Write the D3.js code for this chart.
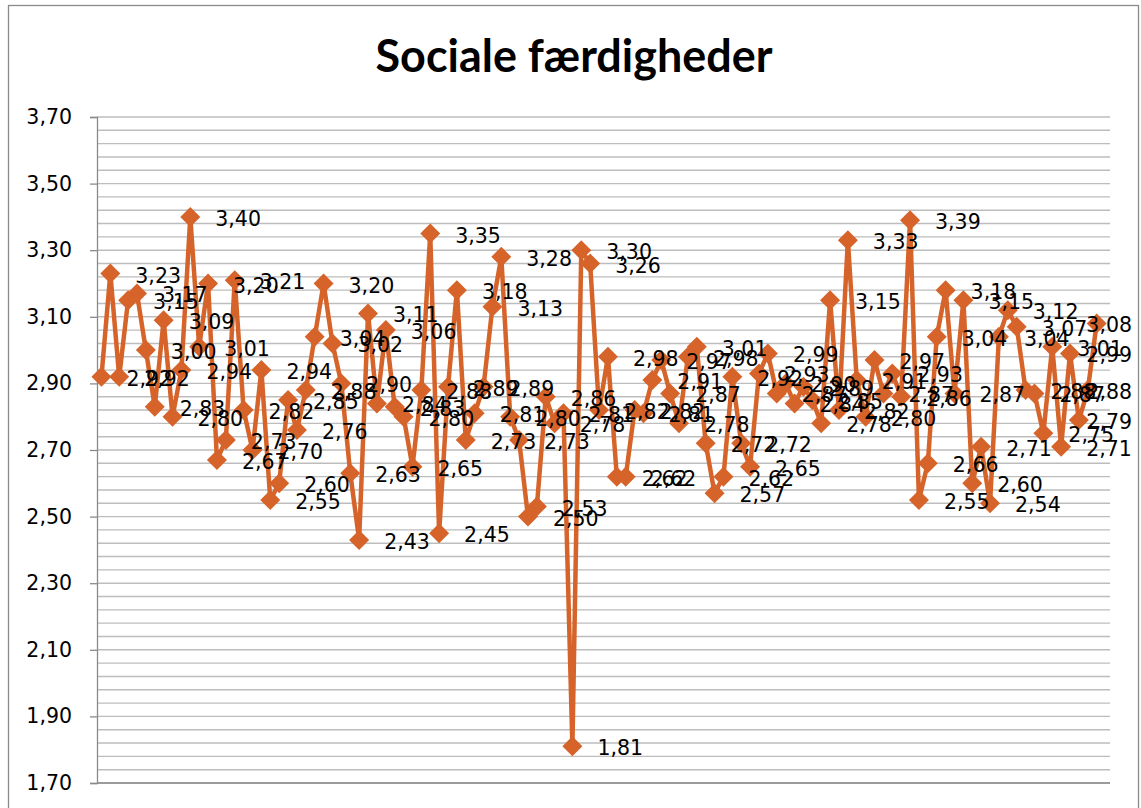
<!DOCTYPE html>
<html>
<head>
<meta charset="utf-8">
<script src="https://cdn.jsdelivr.net/npm/d3@7"></script>
<style>
  body { margin: 0; background: #fff; }
  text { font-family: "DejaVu Sans", Lato, sans-serif; fill: #000; }
  .title { font-family: Lato, "Open Sans", sans-serif; }
</style>
</head>
<body>
<script>
// Chart title
var title = "Sociale færdigheder";

// Values, one per category (the last category is empty)
var values = [
  2.92, 3.23, 2.92, 3.15, 3.17, 3.00, 2.83, 3.09, 2.80, 2.94,
  3.40, 3.01, 3.20, 2.67, 2.73, 3.21, 2.82, 2.70, 2.94, 2.55,
  2.60, 2.85, 2.76, 2.88, 3.04, 3.20, 3.02, 2.90, 2.63, 2.43,
  3.11, 2.84, 3.06, 2.83, 2.80, 2.65, 2.88, 3.35, 2.45, 2.89,
  3.18, 2.73, 2.81, 2.89, 3.13, 3.28, 2.80, 2.73, 2.50, 2.53,
  2.86, 2.78, 2.81, 1.81, 3.30, 3.26, 2.82, 2.98, 2.62, 2.62,
  2.82, 2.81, 2.91, 2.97, 2.87, 2.78, 2.98, 3.01, 2.72, 2.57,
  2.62, 2.92, 2.72, 2.65, 2.93, 2.99, 2.87, 2.90, 2.84, 2.89,
  2.85, 2.78, 3.15, 2.82, 3.33, 2.91, 2.80, 2.97, 2.87, 2.93,
  2.86, 3.39, 2.55, 2.66, 3.04, 3.18, 2.87, 3.15, 2.60, 2.71,
  2.54, 3.04, 3.12, 3.07, 2.88, 2.87, 2.75, 3.01, 2.71, 2.99,
  2.79, 2.88, 3.08, null
];

// Category numbers along the x axis
var categories = d3.range(1, values.length + 1);

// Labelled ticks of the value axis and the fine grid lines
var yTicks = [1.70, 1.90, 2.10, 2.30, 2.50, 2.70, 2.90, 3.10, 3.30, 3.50, 3.70];
var gridValues = [];
for (var k = 0; k <= 50; k++) { gridValues.push(+(1.70 + k * 0.04).toFixed(2)); }

var width = 1141, height = 808;
var plot = {left: 97, right: 1110, top: 117, bottom: 783};
var orange = "#d6642a";

var comma = function(v) { return d3.format(".2f")(v).replace(".", ","); };

var svg = d3.select("body").append("svg")
    .attr("width", width)
    .attr("height", height);

// Outer chart frame
svg.append("rect")
    .attr("x", 8.5).attr("y", 5.5)
    .attr("width", 1130).attr("height", 820)
    .attr("fill", "#fff")
    .attr("stroke", "#8a8a8a")
    .attr("stroke-width", 1.3);

// Scales
var xScale = d3.scaleBand()
    .domain(categories)
    .range([plot.left, plot.right]);

var yScale = d3.scaleLinear()
    .domain([1.70, 3.70])
    .range([plot.bottom, plot.top]);

var cx = function(i) { return xScale(categories[i]) + xScale.bandwidth() / 2; };

// Horizontal grid lines
svg.append("g")
    .selectAll("line")
    .data(gridValues)
    .enter()
    .append("line")
    .attr("x1", plot.left).attr("x2", plot.right)
    .attr("y1", function(d) { return yScale(d); })
    .attr("y2", function(d) { return yScale(d); })
    .attr("stroke", "#bdbdbd")
    .attr("stroke-width", 1.4);

// Value axis
var yAxis = d3.axisLeft(yScale)
    .tickValues(yTicks)
    .tickSize(7)
    .tickPadding(18)
    .tickFormat(comma);

var gy = svg.append("g")
    .attr("transform", "translate(" + plot.left + ",0)")
    .call(yAxis);
gy.select(".domain").attr("stroke", "#8a8a8a").attr("stroke-width", 1.3);
gy.selectAll(".tick line").attr("stroke", "#8a8a8a").attr("stroke-width", 1.3);
gy.selectAll(".tick text")
    .style("font-family", "'DejaVu Sans', sans-serif")
    .style("font-size", "20.5px")
    .attr("fill", "#000");

// Category axis line
svg.append("line")
    .attr("x1", plot.left).attr("x2", plot.right)
    .attr("y1", yScale(1.70)).attr("y2", yScale(1.70))
    .attr("stroke", "#8a8a8a")
    .attr("stroke-width", 1.3);

// Title, sized to the width it has in the reference
var t = svg.append("text")
    .attr("class", "title")
    .attr("x", 574)
    .attr("y", 72)
    .attr("text-anchor", "middle")
    .style("font-weight", "bold")
    .style("font-size", "38px")
    .text(title);
var tw = t.node().getComputedTextLength();
t.style("font-size", (38 * 397 / tw) + "px");

// The series line
var line = d3.line()
    .defined(function(d) { return d != null; })
    .x(function(d, i) { return cx(i); })
    .y(function(d) { return yScale(d); });

svg.append("path")
    .datum(values)
    .attr("d", line)
    .attr("fill", "none")
    .attr("stroke", orange)
    .attr("stroke-width", 4.5)
    .attr("stroke-linejoin", "round");

// Diamond markers
var pts = values.map(function(v, i) { return {v: v, i: i}; })
    .filter(function(d) { return d.v != null; });

svg.append("g")
    .selectAll("path")
    .data(pts)
    .enter()
    .append("path")
    .attr("d", function(d) {
      var x = cx(d.i), y = yScale(d.v), r = 10;
      return "M" + x + "," + (y - r) + "L" + (x + r) + "," + y +
             "L" + x + "," + (y + r) + "L" + (x - r) + "," + y + "Z";
    })
    .attr("fill", orange);

// Data labels, right of each point, kept inside the frame
var labels = svg.append("g")
    .selectAll("text")
    .data(pts)
    .enter()
    .append("text")
    .attr("x", function(d) { return cx(d.i) + 25; })
    .attr("y", function(d) { return yScale(d.v) + 2; })
    .attr("dominant-baseline", "central")
    .style("font-size", "20.5px")
    .text(function(d) { return comma(d.v); });

labels.each(function(d) {
  var w = this.getComputedTextLength();
  var x = cx(d.i) + 25;
  if (x + w > 1132) { d3.select(this).attr("x", 1132 - w); }
});
</script>
</body>
</html>
